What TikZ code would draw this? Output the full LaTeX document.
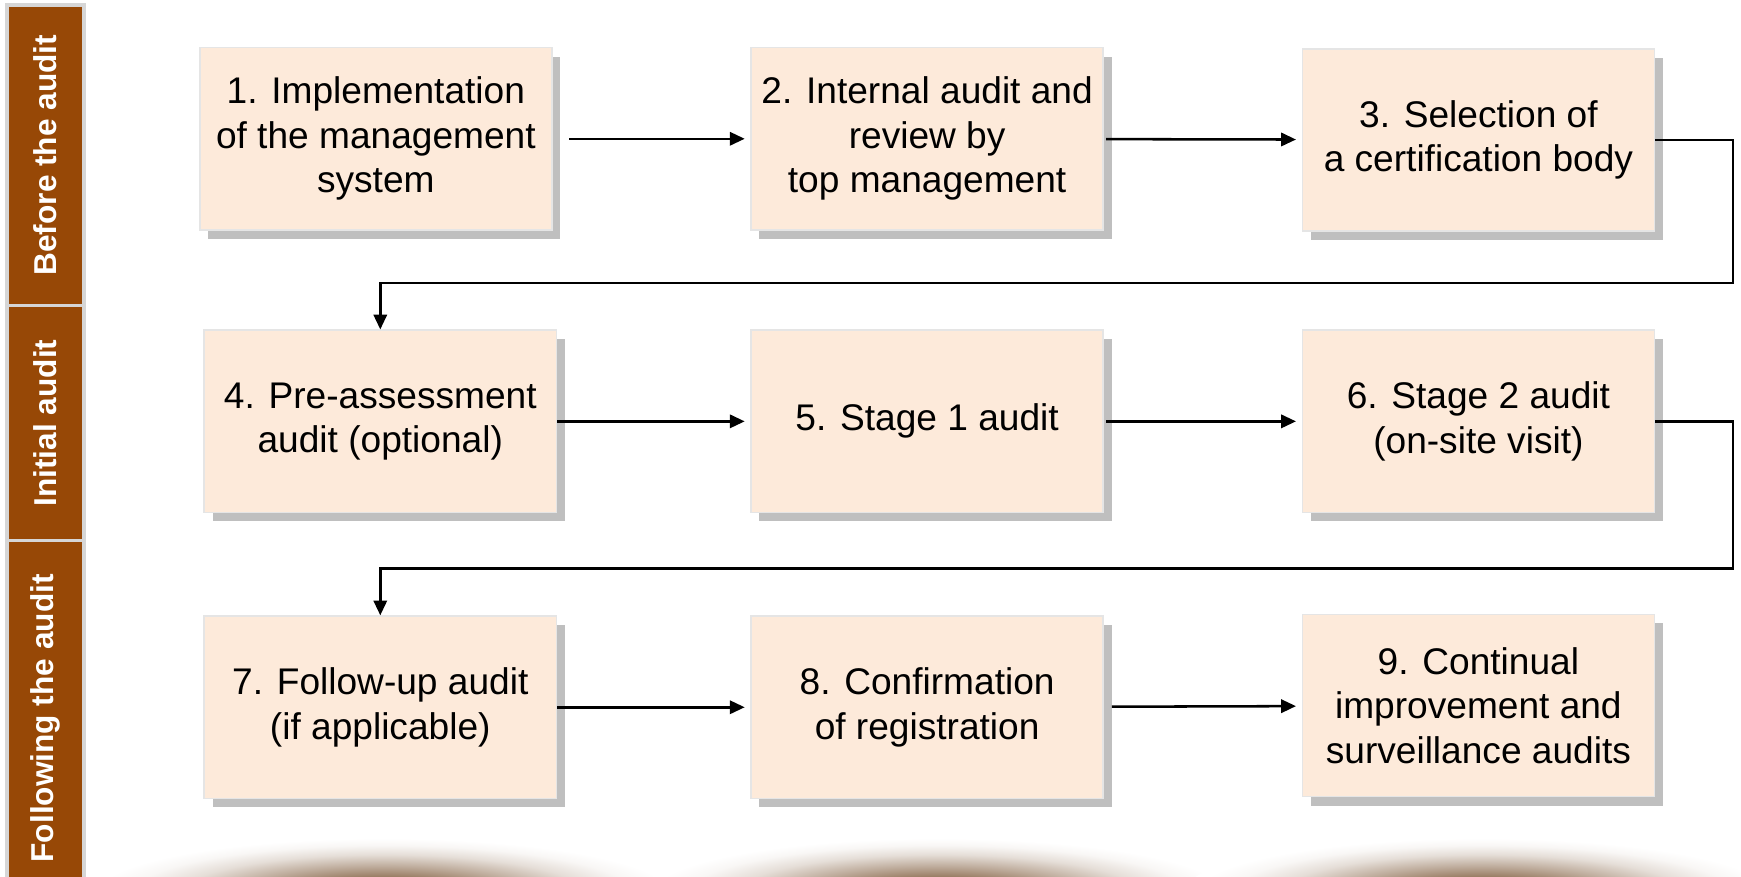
\documentclass[tikz,border=0pt]{standalone}
\usepackage{fontspec}
\setmainfont{Liberation Sans}
\usetikzlibrary{positioning}
\usetikzlibrary{arrows.meta,shadows}
\definecolor{barra}{HTML}{974806}
\definecolor{caja}{HTML}{FDEADA}
\definecolor{sombra}{HTML}{BFBFBF}
\definecolor{brillo}{HTML}{7E5A3A}
\pgfdeclareradialshading{halo}{\pgfpoint{0bp}{0bp}}{color(0bp)=(brillo); color(6bp)=(brillo!88!white); color(12bp)=(brillo!50!white); color(17bp)=(brillo!20!white); color(21bp)=(brillo!5!white); color(24bp)=(white); color(50bp)=(white)}

\begin{document}
\begin{tikzpicture}[x=0.01cm, y=-0.01cm,
  etapa/.style={draw=black!10, fill=caja, minimum width=3.17cm, minimum height=1.64cm, inner sep=0pt, align=center,
    font=\fontsize{9.5}{11.4}\selectfont,
    drop shadow={shadow xshift=0.075cm, shadow yshift=-0.08cm, fill=sombra, opacity=1}},
  fase/.style={draw=black!16, line width=0.9pt, fill=barra, text=white, rotate=90, minimum height=0.69cm, inner sep=0pt,
    font=\fontsize{8.1}{9}\selectfont\bfseries},
  flecha/.style={-{Triangle[length=3.8pt,width=3.4pt]}, line width=0.65pt}]
              \useasboundingbox (0,0) rectangle (1568,789);
              \clip (0,0) rectangle (1568,789);
              % Fondo
              \shade[shading=halo] (345,805) ellipse (2.7cm and 0.52cm);
              \shade[shading=halo] (845,805) ellipse (2.7cm and 0.52cm);
              \shade[shading=halo] (1335,805) ellipse (2.7cm and 0.52cm);
              % Fases
              \node[fase, minimum width=2.705cm] (antes) at (41,139.75) {Before the audit};
              \node[fase, minimum width=2.12cm] (inicial) at (41,381) {Initial audit};
              \node[fase, minimum width=3.2cm] (despues) at (41,647) {Following the audit};
              % Etapas
              \node[etapa] (e1) at (338.5,125) {1. Implementation\\of the management\\system};
              \node[etapa] (e2) at (835,125) {2. Internal audit and\\review by\\top management};
              \node[etapa] (e3) at (1331.5,126) {3. Selection of\\a certification body};
              \node[etapa] (e4) at (342.5,379.5) {4. Pre-assessment\\audit (optional)};
              \node[etapa] (e5) at (835,379.5) {5. Stage 1 audit};
              \node[etapa] (e6) at (1331.5,379.5) {6. Stage 2 audit\\(on-site visit)};
              \node[etapa] (e7) at (342.5,637) {7. Follow-up audit\\(if applicable)};
              \node[etapa] (e8) at (835,637) {8. Confirmation\\of registration};
              \node[etapa] (e9) at (1331.5,635.5) {9. Continual\\improvement and\\surveillance audits};
              \coordinate (giro1) at (1561,255);
              \coordinate (giro2) at (1561,512);

              % Flechas
              \draw[flecha, shorten <=0.15cm, shorten >=0.05cm] (e1) -- (e2);
              \draw[flecha, shorten <=0.02cm, shorten >=0.05cm] (e2) -- (e3);
              \draw[flecha] (e3.east) -| (giro1) -| (e4.north);
              \draw[flecha, shorten >=0.05cm] (e4) -- (e5);
              \draw[flecha, shorten <=0.02cm, shorten >=0.05cm] (e5) -- (e6);
              \draw[flecha] (e6.east) -| (giro2) -| (e7.north);
              \draw[flecha, shorten >=0.05cm] (e7) -- (e8);
              \draw[flecha, shorten <=0.07cm, shorten >=0.05cm] (e8) -- (e9);
            \end{tikzpicture}
\end{document}
